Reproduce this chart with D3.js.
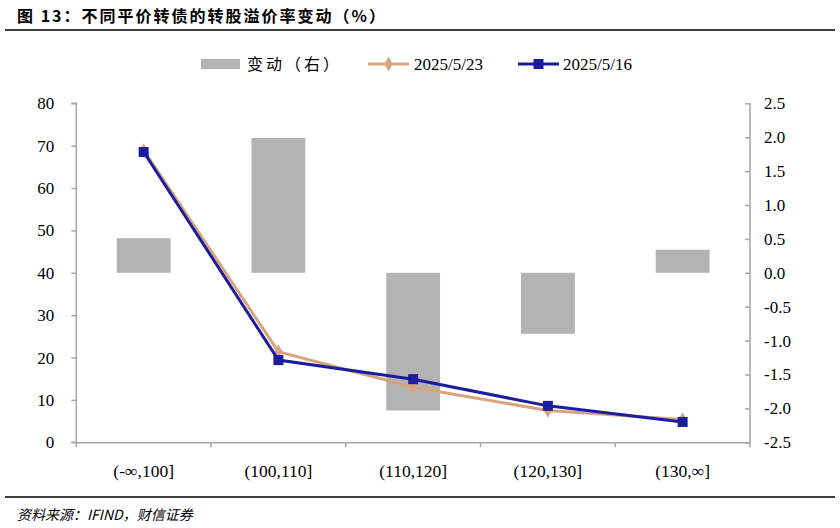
<!DOCTYPE html>
<html>
<head>
<meta charset="utf-8">
<script src="https://cdn.jsdelivr.net/npm/d3@7"></script>
<style>
  body { margin: 0; background: #fff; }
  svg { display: block; }
</style>
</head>
<body>
<svg id="chart"></svg>
<script>
const width = 840;
const height = 528;

// data
const categories = ["(-∞,100]", "(100,110]", "(110,120]", "(120,130]", "(130,∞]"];
const change = [0.51, 1.99, -2.03, -0.90, 0.34];        // 变动（右）
const may23 = [68.9, 21.4, 13.0, 7.5, 5.4];             // 2025/5/23
const may16 = [68.5, 19.4, 14.9, 8.6, 4.8];             // 2025/5/16
const leftTicks = [0, 10, 20, 30, 40, 50, 60, 70, 80];
const rightTicks = [-2.5, -2.0, -1.5, -1.0, -0.5, 0, 0.5, 1.0, 1.5, 2.0, 2.5];

const plot = { left: 76.3, right: 750, top: 103.3, bottom: 442.3 };
const serif = "Liberation Serif";
const cjk = "Noto Sans CJK SC";
const axisColor = "#a6a6a6";
const barColor = "#b3b3b3";
const orange = "#d8a47c";
const blue = "#1c1c9e";

const svg = d3.select("#chart").attr("width", width).attr("height", height);

const x = d3.scaleBand().domain(categories).range([plot.left, plot.right]).paddingInner(0).paddingOuter(0);
const yL = d3.scaleLinear().domain([0, 80]).range([plot.bottom, plot.top]);
const yR = d3.scaleLinear().domain([-2.5, 2.5]).range([plot.bottom, plot.top]);

// title
svg.append("text")
  .attr("x", 17).attr("y", 22)
  .style("font-family", cjk).style("font-weight", "bold").style("font-size", "16px")
  .attr("letter-spacing", 2)
  .text("图 13：不同平价转债的转股溢价率变动（%）");
svg.append("line")
  .attr("x1", 5).attr("x2", 835).attr("y1", 30).attr("y2", 30)
  .attr("stroke", "#000").attr("stroke-width", 1.5);

// bars
const barW = x.bandwidth() * 0.4;
svg.append("g").selectAll("rect")
  .data(change)
  .join("rect")
  .attr("x", (d, i) => x(categories[i]) + (x.bandwidth() - barW) / 2)
  .attr("width", barW)
  .attr("y", d => yR(Math.max(0, d)))
  .attr("height", d => Math.abs(yR(d) - yR(0)))
  .attr("fill", barColor);

// axes (plain hyphen for negatives, like the original)
const fmtR = d => d3.format(".1f")(d).replace("−", "-");
const axL = svg.append("g")
  .attr("transform", `translate(${plot.left},0)`)
  .call(d3.axisLeft(yL).tickValues(leftTicks).tickSize(5).tickPadding(17).tickFormat(d3.format("d")));
const axR = svg.append("g")
  .attr("transform", `translate(${plot.right},0)`)
  .call(d3.axisRight(yR).tickValues(rightTicks).tickSizeInner(-5).tickSizeOuter(0).tickPadding(14).tickFormat(fmtR));
const axB = svg.append("g")
  .attr("transform", `translate(0,${plot.bottom})`)
  .call(d3.axisBottom(x).tickSize(0).tickPadding(22));

// category boundary ticks on the x axis
axB.selectAll(".bound")
  .data(d3.range(categories.length + 1))
  .join("line")
  .attr("class", "bound")
  .attr("x1", i => plot.left + i * x.bandwidth())
  .attr("x2", i => plot.left + i * x.bandwidth())
  .attr("y1", 0).attr("y2", 5);

[axL, axR, axB].forEach(ax => {
  ax.attr("font-family", null).attr("font-size", null);
  ax.select(".domain").attr("stroke", axisColor).attr("stroke-width", 1.5);
  ax.selectAll("line").attr("stroke", axisColor).attr("stroke-width", 1.5);
  ax.selectAll("text")
    .style("font-family", serif).style("font-size", "17px").attr("fill", "#000");
});
axB.selectAll("text").style("font-size", "17.5px");
axL.select(".domain").attr("d", `M-5,${plot.top}H0V${plot.bottom}H-5`);
axR.select(".domain").attr("d", `M0,${plot.top}V${plot.bottom}`);
axR.selectAll(".tick text").attr("text-anchor", "start").attr("x", 14);

// lines
const line = d3.line()
  .x((d, i) => x(categories[i]) + x.bandwidth() / 2)
  .y(d => yL(d));

svg.append("path").datum(may23)
  .attr("d", line).attr("fill", "none")
  .attr("stroke", orange).attr("stroke-width", 3);
svg.append("g").selectAll("path")
  .data(may23)
  .join("path")
  .attr("d", d3.symbol(d3.symbolDiamond, 60))
  .attr("transform", (d, i) => `translate(${x(categories[i]) + x.bandwidth() / 2},${yL(d)})`)
  .attr("fill", orange);

svg.append("path").datum(may16)
  .attr("d", line).attr("fill", "none")
  .attr("stroke", blue).attr("stroke-width", 3);
svg.append("g").selectAll("rect")
  .data(may16)
  .join("rect")
  .attr("x", (d, i) => x(categories[i]) + x.bandwidth() / 2 - 5)
  .attr("y", d => yL(d) - 5)
  .attr("width", 10).attr("height", 10)
  .attr("fill", blue);

// legend
const lg = svg.append("g").attr("transform", "translate(0,64)");
lg.append("rect").attr("x", 201).attr("y", -5).attr("width", 39).attr("height", 10).attr("fill", barColor);
lg.append("text").attr("x", 247).attr("y", 6)
  .style("font-family", cjk).style("font-size", "16px").attr("letter-spacing", 3)
  .text("变动（右）");
lg.append("line").attr("x1", 368).attr("x2", 409).attr("y1", 0).attr("y2", 0)
  .attr("stroke", orange).attr("stroke-width", 3);
lg.append("path").attr("d", d3.symbol(d3.symbolDiamond, 60)).attr("transform", "translate(388.5,0)").attr("fill", orange);
lg.append("text").attr("x", 414).attr("y", 6)
  .style("font-family", serif).style("font-size", "17px").text("2025/5/23");
lg.append("line").attr("x1", 518).attr("x2", 559).attr("y1", 0).attr("y2", 0)
  .attr("stroke", blue).attr("stroke-width", 3);
lg.append("rect").attr("x", 533.5).attr("y", -5).attr("width", 10).attr("height", 10).attr("fill", blue);
lg.append("text").attr("x", 563).attr("y", 6)
  .style("font-family", serif).style("font-size", "17px").text("2025/5/16");

// footer
svg.append("line")
  .attr("x1", 5).attr("x2", 835).attr("y1", 497).attr("y2", 497)
  .attr("stroke", "#000").attr("stroke-width", 1.5);
svg.append("text")
  .attr("x", 17).attr("y", 520)
  .style("font-family", cjk).style("font-style", "italic").style("font-size", "14px")
  .text("资料来源：IFIND，财信证券");
</script>
</body>
</html>
